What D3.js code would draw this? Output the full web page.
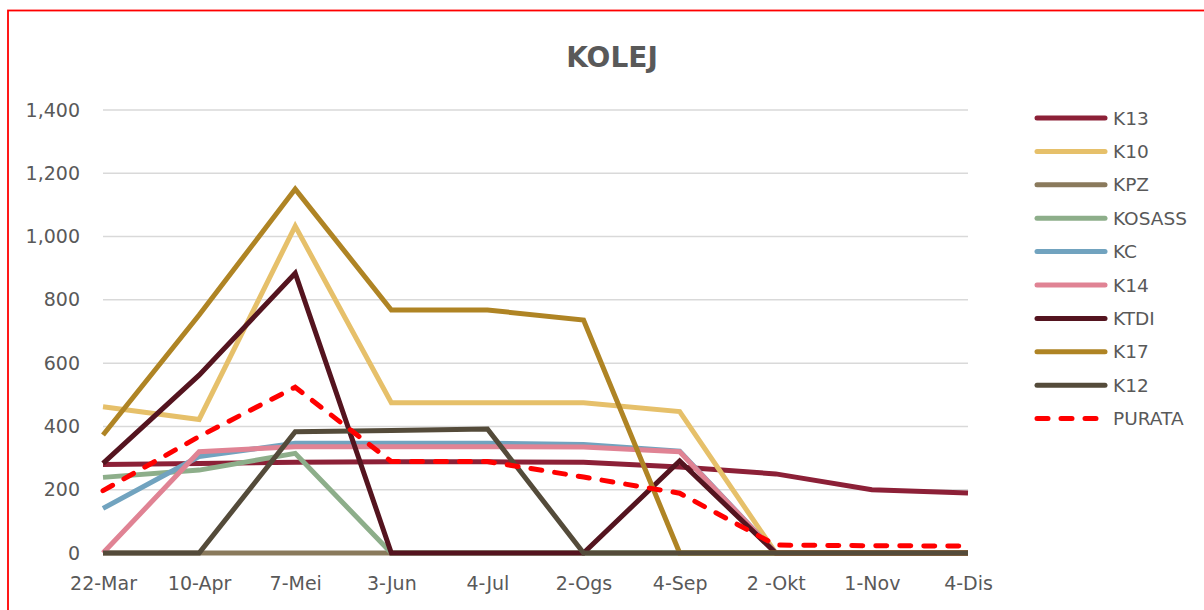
<!DOCTYPE html>
<html>
<head>
<meta charset="utf-8">
<script src="https://cdn.jsdelivr.net/npm/d3@7"></script>
<style>
  body { margin: 0; background: #fff; }
  text { font-family: "DejaVu Sans", sans-serif; fill: #595959; }
</style>
</head>
<body>
<svg id="chart"></svg>
<script>
// categories (x axis)
const months = ["22-Mar", "10-Apr", "7-Mei", "3-Jun", "4-Jul", "2-Ogs", "4-Sep", "2 -Okt", "1-Nov", "4-Dis"];
const yTicks = [0, 200, 400, 600, 800, 1000, 1200, 1400];

// series values
const K13    = [280, 283, 287, 288, 288, 287, 272, 250, 200, 190];
const K10    = [462, 422, 1033, 475, 475, 475, 447, 0, 0, 0];
const KPZ    = [0, 0, 0, 0, 0, 0, 0, 0, 0, 0];
const KOSASS = [239, 262, 315, 0, 0, 0, 0, 0, 0, 0];
const KC     = [141, 305, 347, 347, 347, 343, 322, 0, 0, 0];
const K14    = [0, 320, 336, 336, 336, 335, 320, 0, 0, 0];
const KTDI   = [283, 562, 884, 0, 0, 0, 291, 0, 0, 0];
const K17    = [373, 752, 1150, 768, 768, 736, 0, 0, 0, 0];
const K12    = [0, 0, 383, 387, 392, 0, 0, 0, 0, 0];
const PURATA = [197, 368, 524, 289, 289, 240, 189, 25, 23, 22];

const series = [
  { name: "K13", values: K13, color: "#8C2037" },
  { name: "K10", values: K10, color: "#E6C06A" },
  { name: "KPZ", values: KPZ, color: "#8A7A5C" },
  { name: "KOSASS", values: KOSASS, color: "#8DAE8A" },
  { name: "KC", values: KC, color: "#71A3BF" },
  { name: "K14", values: K14, color: "#E08394" },
  { name: "KTDI", values: KTDI, color: "#54141F" },
  { name: "K17", values: K17, color: "#AF8424" },
  { name: "K12", values: K12, color: "#544B3A" },
  { name: "PURATA", values: PURATA, color: "#FF0000", dashed: true }
];

const width = 1204, height = 610;
const svg = d3.select("#chart").attr("width", width).attr("height", height);

// red frame round the chart
svg.append("rect")
  .attr("x", 8).attr("y", 10.5)
  .attr("width", 1200).attr("height", 620)
  .attr("fill", "none")
  .attr("stroke", "#FF0000")
  .attr("stroke-width", 1.8);

svg.append("text")
  .attr("x", 612).attr("y", 67)
  .attr("text-anchor", "middle")
  .style("font-size", "28px")
  .style("font-weight", "bold")
  .text("KOLEJ");

const x = d3.scalePoint().domain(months).range([103, 968]);
const y = d3.scaleLinear().domain([0, 1400]).range([553, 110]);

// gridlines
svg.append("g")
  .selectAll("line")
  .data(yTicks)
  .join("line")
  .attr("x1", 103).attr("x2", 968)
  .attr("y1", d => y(d)).attr("y2", d => y(d))
  .attr("stroke", "#d9d9d9")
  .attr("stroke-width", 1.5);

// y axis labels
const yAxis = svg.append("g")
  .attr("transform", "translate(86,0)")
  .call(d3.axisLeft(y).tickValues(yTicks).tickFormat(d3.format(",")).tickSize(0).tickPadding(6));
yAxis.select(".domain").remove();
yAxis.selectAll("text")
  .style("font-size", "19px")
  .style("font-family", "DejaVu Sans, sans-serif")
  .attr("fill", "#595959");

// x axis labels
const xAxis = svg.append("g")
  .attr("transform", "translate(0,553)")
  .call(d3.axisBottom(x).tickSize(0).tickPadding(24));
xAxis.select(".domain").remove();
xAxis.selectAll("text")
  .style("font-size", "19px")
  .style("font-family", "DejaVu Sans, sans-serif")
  .attr("fill", "#595959");

const line = d3.line()
  .x((d, i) => x(months[i]))
  .y(d => y(d));

svg.append("g")
  .selectAll("path")
  .data(series)
  .join("path")
  .attr("d", d => line(d.values))
  .attr("fill", "none")
  .attr("stroke", d => d.color)
  .attr("stroke-width", 5)
  .attr("stroke-linejoin", "miter")
  .attr("stroke-linecap", d => d.dashed ? "round" : "butt")
  .attr("stroke-dasharray", d => d.dashed ? "11,13" : null);

// legend
const legend = svg.append("g")
  .selectAll("g")
  .data(series)
  .join("g")
  .attr("transform", (d, i) => `translate(1035,${118 + i * 33.4})`);

legend.append("line")
  .attr("x1", 2).attr("x2", 70)
  .attr("stroke", d => d.color)
  .attr("stroke-width", 5)
  .attr("stroke-linecap", "round")
  .attr("stroke-dasharray", d => d.dashed ? "11,13" : null);

legend.append("text")
  .attr("x", 78)
  .attr("dy", "0.36em")
  .style("font-size", "18.5px")
  .text(d => d.name);
</script>
</body>
</html>
